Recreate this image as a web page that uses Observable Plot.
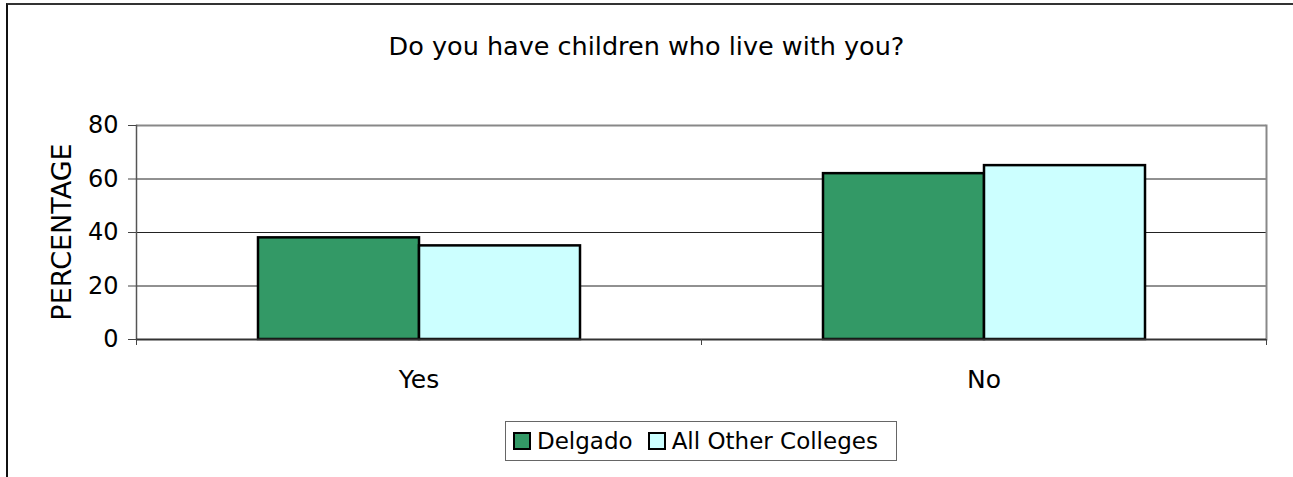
<!DOCTYPE html>
<html><head><meta charset="utf-8">
<script src="https://cdn.jsdelivr.net/npm/d3@7"></script>
<script src="https://cdn.jsdelivr.net/npm/@observablehq/plot@0.6"></script>
<style>
html,body{margin:0;padding:0;background:#fff;overflow:hidden}
#wrap{position:relative;width:1293px;height:477px;font-family:"DejaVu Sans",sans-serif;color:#000;overflow:hidden}
#border{position:absolute;left:6px;top:3px;width:1300px;height:490px;border-top:2px solid #333;border-left:2px solid #111;box-sizing:border-box}
#chart{position:absolute;left:0;top:0}
#title{position:absolute;left:0;width:1293px;top:34px;text-align:center;font-size:25.5px;line-height:1;white-space:nowrap}
#ylabel{position:absolute;left:61px;top:232px;width:300px;text-align:center;font-size:27px;line-height:1;transform:translate(-50%,-50%) rotate(-90deg);white-space:nowrap}
#legend{position:absolute;left:505px;top:421px;width:392px;height:40px;box-sizing:border-box;border:1.5px solid #666;display:flex;align-items:center;padding-left:7px;font-size:23px;white-space:nowrap;background:#fff}
.sw{width:18px;height:18px;box-sizing:border-box;border:2px solid #000;display:inline-block;margin-right:6px}
.item{display:flex;align-items:center;margin-right:15px}
</style></head>
<body>
<div id="wrap">
  <div id="border"></div>
  <div id="chart"></div>
  <div id="title"></div>
  <div id="ylabel"></div>
  <div id="legend"></div>
</div>
<script>
const categories = ["Yes", "No"];
const seriesNames = ["Delgado", "All Other Colleges"];
const delgadoValues = [38, 62];
const otherValues = [35, 65];
const yTicks = [0, 20, 40, 60, 80];
const seriesColors = ["#339966", "#CCFFFF"];
const titleText = "Do you have children who live with you?";
const yLabelText = "PERCENTAGE";

const rows = categories.flatMap((c, i) => [
  {category: c, series: seriesNames[0], value: delgadoValues[i]},
  {category: c, series: seriesNames[1], value: otherValues[i]}
]);

const W = 1293, H = 477, mT = 125, mR = 27, mB = 138, mL = 136;
const halfBand = (W - mL - mR) / categories.length / 2;
const yMax = yTicks[yTicks.length - 1];

const chart = Plot.plot({
  width: W, height: H,
  marginTop: mT, marginRight: mR, marginBottom: mB, marginLeft: mL,
  style: {fontFamily: "'DejaVu Sans', sans-serif", fontSize: "24px", color: "#000", background: "transparent", overflow: "visible"},
  fx: {domain: categories, padding: 0, label: null},
  x: {domain: seriesNames, paddingInner: 0, paddingOuter: 0.75, axis: null},
  y: {domain: [0, yMax], label: null},
  color: {domain: seriesNames, range: seriesColors},
  marks: [
    Plot.ruleY(yTicks.filter(t => t > 0 && t < yMax), {stroke: "#222", strokeWidth: 1}),
    Plot.ruleY([yMax], {stroke: "#888", strokeWidth: 2}),
    Plot.frame({anchor: "left", fx: [categories[0]], stroke: "#555", strokeWidth: 1.5}),
    Plot.frame({anchor: "right", fx: [categories[categories.length - 1]], stroke: "#888", strokeWidth: 2}),
    Plot.barY(rows, {fx: "category", x: "series", y: "value", fill: "series", stroke: "#000", strokeWidth: 2.5}),
    Plot.ruleY([0], {stroke: "#333", strokeWidth: 2}),
    Plot.axisY({ticks: yTicks, tickSize: 8, tickPadding: 10, fontSize: 24, label: null, stroke: "#444"}),
    Plot.axisFx({anchor: "bottom", tickSize: 0, tickPadding: 31, fontSize: 25, label: null}),
    Plot.axisFx({anchor: "bottom", tickSize: 6, tickFormat: () => "", label: null, dx: -halfBand, stroke: "#444"}),
    Plot.axisFx({anchor: "bottom", tickSize: 6, tickFormat: () => "", label: null, dx: halfBand, stroke: "#444"})
  ]
});
document.getElementById("chart").appendChild(chart);
document.getElementById("title").textContent = titleText;
document.getElementById("ylabel").textContent = yLabelText;

const legend = document.getElementById("legend");
seriesNames.forEach((name, i) => {
  const item = document.createElement("span");
  item.className = "item";
  const sw = document.createElement("span");
  sw.className = "sw";
  sw.style.background = seriesColors[i];
  item.appendChild(sw);
  item.appendChild(document.createTextNode(name));
  legend.appendChild(item);
});
</script>
</body></html>
